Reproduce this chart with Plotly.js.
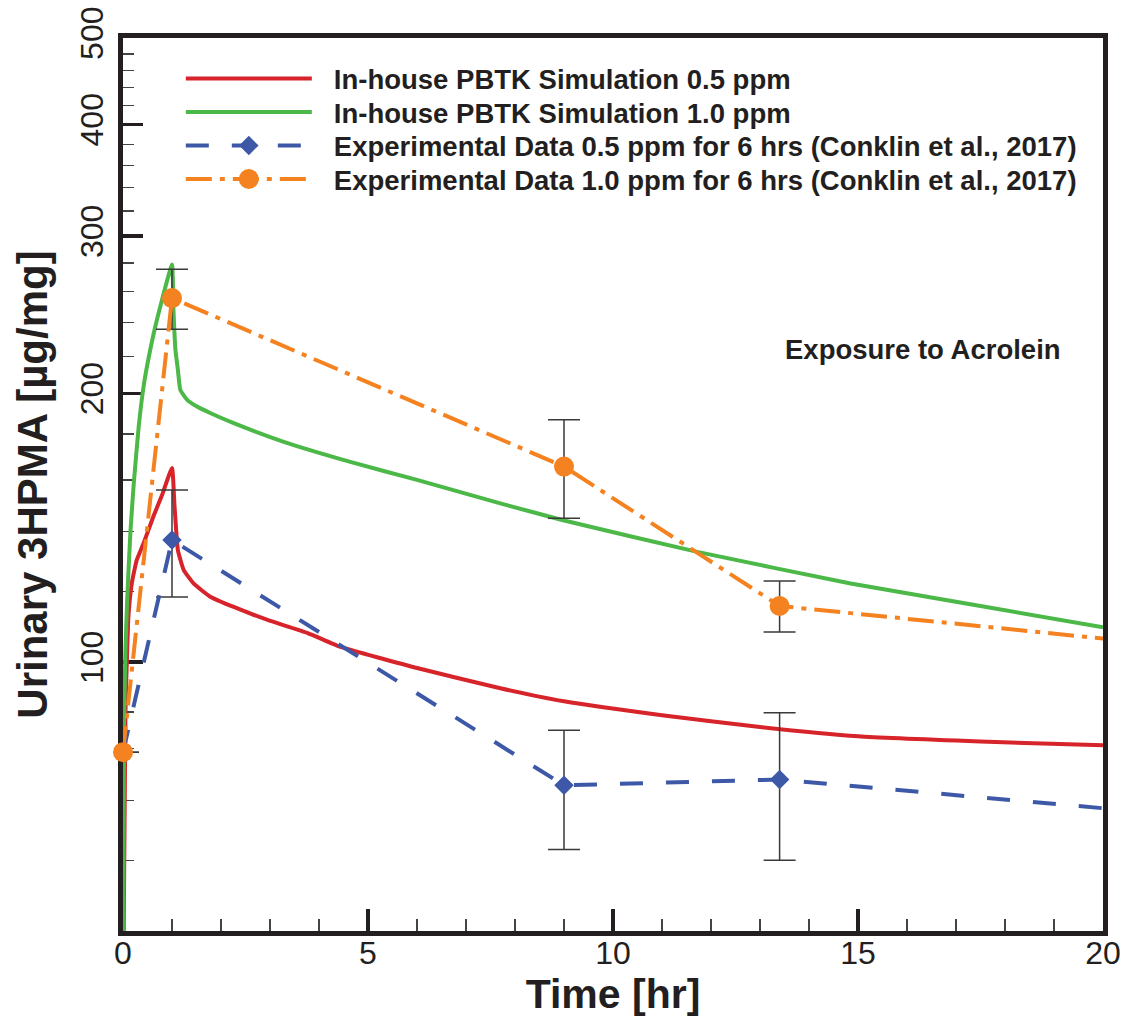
<!DOCTYPE html>
<html>
<head>
<meta charset="utf-8">
<script src="https://cdn.plot.ly/plotly-3.0.1.min.js"></script>
<style>html,body{margin:0;padding:0;background:#ffffff;}</style>
</head>
<body>
<div id="chart" style="width:1125px;height:1017px;"></div>
<script>
// ---------- data ----------
const simTime05 = [0, 0.05, 0.085, 0.11, 0.18, 0.28, 0.42, 0.62, 0.8, 1.0, 1.05, 1.12, 1.24, 1.44, 1.78, 2.26, 2.95, 3.77, 4.44, 6.0, 7.7, 9.0, 11.0, 13.0, 15.0, 17.5, 20];
const sim05     = [40, 88, 103, 112.4, 122.6, 130.1, 135.9, 145.6, 154, 165, 150, 133.5, 126.8, 122.5, 118.4, 115.3, 111.5, 107.8, 104, 98.5, 93.5, 90.4, 87.2, 84.6, 82.6, 81.5, 80.7];

const simTime10 = [0, 0.02, 0.05, 0.085, 0.15, 0.22, 0.32, 0.43, 0.63, 0.8, 1.0, 1.03, 1.07, 1.12, 1.17, 1.31, 1.51, 1.79, 2.26, 3.28, 4.64, 6.0, 7.7, 8.96, 11.72, 14.85, 17.5, 20];
const sim10     = [40, 85, 103, 117.3, 139.5, 158.6, 183.5, 205.3, 233.8, 255, 278.8, 248, 223.8, 212.5, 201.8, 196.7, 193.3, 190, 185.2, 176.5, 167.6, 160, 150.6, 144.3, 132.9, 122.5, 115.6, 109.4];

const expTime     = [0, 1, 9, 13.4, 24];
const exp05       = [79.3, 137.0, 72.8, 73.9, 65.6];
const exp05Upper  = [79.3, 155.9, 83.9, 87.8, 65.6];
const exp05Lower  = [79.3, 118.3, 61.7, 60.0, 65.6];
const exp10       = [79.3, 255.7, 165.6, 115.6, 101.0];
const exp10Upper  = [79.3, 275.5, 186.8, 123.3, 101.0];
const exp10Lower  = [79.3, 236.0, 144.9, 108.1, 101.0];

const seriesNames = [
  'In-house PBTK Simulation 0.5 ppm',
  'In-house PBTK Simulation 1.0 ppm',
  'Experimental Data 0.5 ppm for 6 hrs (Conklin et al., 2017)',
  'Experimental Data 1.0 ppm for 6 hrs (Conklin et al., 2017)'
];
const yMajorTicks = [100, 200, 300, 400, 500];
const yMinorTicks = [60, 70, 80, 88, 120, 140, 160, 180, 220, 240, 260, 280, 320, 340, 360, 380, 420, 440, 460, 480];
const xTitle = 'Time [hr]';
const yTitle = 'Urinary 3HPMA [µg/mg]';
const noteText = 'Exposure to Acrolein';

// ---------- styling ----------
const FONT = 'Liberation Sans, Arial, Helvetica, sans-serif';
const INK = '#231f20';
const errStyle = {color: '#3a3a3a', thickness: 1.5, width: 16};

const plus = (v, up) => up.map((u, i) => u - v[i]);
const minus = (v, lo) => lo.map((l, i) => v[i] - l);

const traces = [
  {x: simTime05, y: sim05, name: seriesNames[0], mode: 'lines',
   line: {color: '#d7232a', width: 4, shape: 'spline', smoothing: 0.4}},
  {x: simTime10, y: sim10, name: seriesNames[1], mode: 'lines',
   line: {color: '#4bb848', width: 4, shape: 'spline', smoothing: 0.4}},
  {x: expTime, y: exp05, name: seriesNames[2], mode: 'lines+markers', cliponaxis: false,
   line: {color: '#3e58a8', width: 4, dash: '23px,23px'},
   marker: {symbol: 'diamond', size: 15, color: '#3e58a8'},
   error_y: Object.assign({type: 'data', symmetric: false,
     array: plus(exp05, exp05Upper), arrayminus: minus(exp05, exp05Lower)}, errStyle)},
  {x: expTime, y: exp10, name: seriesNames[3], mode: 'lines+markers', cliponaxis: false,
   line: {color: '#f58220', width: 4, dash: '26px,8px,5px,8px'},
   marker: {symbol: 'circle', size: 20, color: '#f58220'},
   error_y: Object.assign({type: 'data', symmetric: false,
     array: plus(exp10, exp10Upper), arrayminus: minus(exp10, exp10Lower)}, errStyle)}
];

const layout = {
  width: 1125, height: 1017,
  margin: {l: 123, r: 22, t: 38, b: 86},
  paper_bgcolor: '#ffffff', plot_bgcolor: '#ffffff',
  font: {family: FONT, color: INK},
  showlegend: true,
  legend: {
    x: 0.059, y: 0.982, xanchor: 'left', yanchor: 'top',
    bgcolor: 'rgba(0,0,0,0)', borderwidth: 0,
    itemwidth: 126,
    font: {family: FONT, size: 27.5, color: INK, weight: 700}
  },
  xaxis: {
    range: [0, 20], tickmode: 'linear', tick0: 0, dtick: 5,
    ticks: 'inside', ticklen: 22, tickwidth: 3.5, tickcolor: INK,
    ticklabelstandoff: -10,
    tickfont: {family: FONT, size: 32, color: INK},
    showline: true, linewidth: 5, linecolor: INK, mirror: true,
    showgrid: false, zeroline: false, layer: 'below traces',
    minor: {dtick: 1, ticks: 'inside', ticklen: 12, tickwidth: 1.5, tickcolor: '#444444', showgrid: false},
    title: {text: xTitle, standoff: 22, font: {family: FONT, size: 41, color: INK, weight: 700}}
  },
  yaxis: {
    type: 'log', range: [Math.log10(50), Math.log10(500)],
    tickmode: 'array', tickvals: yMajorTicks, ticktext: yMajorTicks.map(String),
    ticks: 'inside', ticklen: 20, tickwidth: 3.5, tickcolor: INK,
    tickangle: -90, ticklabelstandoff: 2,
    tickfont: {family: FONT, size: 32, color: INK},
    showline: true, linewidth: 5, linecolor: INK, mirror: true,
    showgrid: false, zeroline: false, layer: 'below traces',
    minor: {tickmode: 'array', tickvals: yMinorTicks, ticks: 'inside', ticklen: 11, tickwidth: 1.5, tickcolor: '#444444', showgrid: false},
    title: {text: yTitle, standoff: 15, font: {family: FONT, size: 42, color: INK, weight: 700}}
  },
  annotations: [
    {text: noteText, xref: 'paper', yref: 'paper', x: 0.816, y: 0.651,
     xanchor: 'center', yanchor: 'middle', showarrow: false,
     font: {family: FONT, size: 27.5, color: INK, weight: 700}}
  ]
};

Plotly.newPlot('chart', traces, layout, {displayModeBar: false, staticPlot: true}).then(function (gd) {
  // tighten legend row spacing and text gap to match the reference
  gd.querySelectorAll('.legend [clip-path]').forEach(function (el) { el.removeAttribute('clip-path'); });
  const rows = gd.querySelectorAll('.legend .traces');
  const rowGap = 33.5;
  let y0 = null;
  rows.forEach(function (g, i) {
    const m = /translate\(\s*([-\d.]+)[ ,]+([-\d.]+)\s*\)/.exec(g.getAttribute('transform') || '');
    if (!m) return;
    const tx = parseFloat(m[1]);
    const ty = parseFloat(m[2]);
    if (y0 === null) y0 = ty;
    g.setAttribute('transform', 'translate(' + tx + ',' + (y0 + i * rowGap) + ')');
    const t = g.querySelector('text.legendtext');
    if (t) t.setAttribute('transform', 'translate(17,0)');
    // legend caps marker size at 16px; restore the circle to the plotted size
    if (i === 3) {
      const p = g.querySelector('.legendpoints path.scatterpts');
      if (p) p.setAttribute('transform', (p.getAttribute('transform') || '') + ' scale(1.25)');
    }
  });
});
</script>
</body>
</html>
